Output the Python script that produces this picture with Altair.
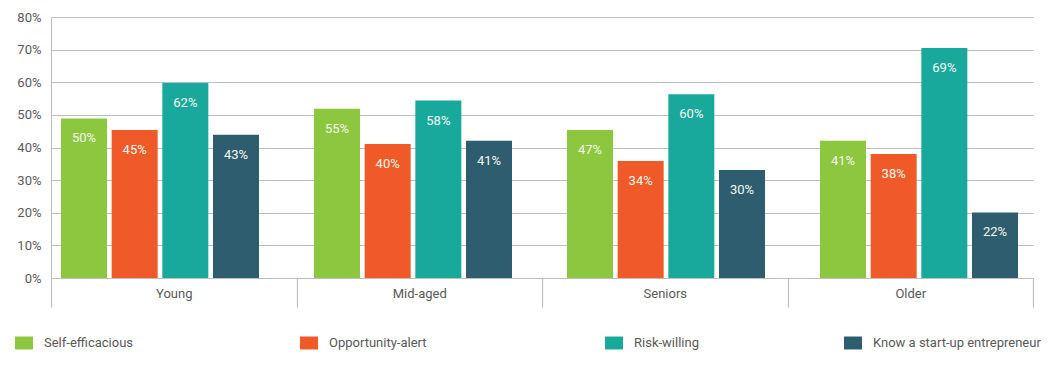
import altair as alt
import pandas as pd

groups = ["Young", "Mid-aged", "Seniors", "Older"]
series = ["Self-efficacious", "Opportunity-alert", "Risk-willing", "Know a start-up entrepreneur"]
colors = ["#8DC63F", "#F05A28", "#19A99C", "#2E5D70"]

# bar heights as drawn (fractions)
self_eff = [0.489, 0.519, 0.454, 0.421]
opp_alert = [0.454, 0.411, 0.359, 0.380]
risk_will = [0.598, 0.544, 0.563, 0.705]
know_ent = [0.439, 0.421, 0.331, 0.201]
# printed labels
self_lbl = ["50%", "55%", "47%", "41%"]
opp_lbl = ["45%", "40%", "34%", "38%"]
risk_lbl = ["62%", "58%", "60%", "69%"]
know_lbl = ["43%", "41%", "30%", "22%"]
y_ticks = [0, 0.1, 0.2, 0.3, 0.4, 0.5, 0.6, 0.7, 0.8]

values = [self_eff, opp_alert, risk_will, know_ent]
labels = [self_lbl, opp_lbl, risk_lbl, know_lbl]
rows = []
for s, vals, lbls in zip(series, values, labels):
    for g, v, l in zip(groups, vals, lbls):
        rows.append({"group": g, "series": s, "value": v, "label": l})
df = pd.DataFrame(rows)
cat_df = pd.DataFrame({"group": groups})

FONT = "Roboto"
GRAY = "#595959"
LINE = "#BFBFBF"

x_bar = alt.X("group:N", sort=groups, axis=None,
              scale=alt.Scale(paddingInner=0.2174, paddingOuter=0.0494, align=0.4))
xoff = alt.XOffset("series:N", sort=series,
                   scale=alt.Scale(domain=series, paddingInner=0.092, paddingOuter=0))
y_axis = alt.Axis(format=".0%", values=y_ticks, tickCount=9,
                  title=None, ticks=False, labelPadding=10, labelOverlap=False,
                  labelFont=FONT, labelFontSize=13, labelColor=GRAY,
                  domainColor=LINE, gridColor=LINE, gridWidth=1.2,
                  domainWidth=1.2)
y_enc = alt.Y("value:Q", scale=alt.Scale(domain=[0, 0.8], nice=False), axis=y_axis)

legend_x = [-36, 249, 554, 793]
layers = []
for i, (s, c) in enumerate(zip(series, colors)):
    layer = alt.Chart(df).transform_filter(alt.datum.series == s).mark_bar().encode(
        x=x_bar,
        xOffset=xoff,
        y=y_enc,
        color=alt.Color("series:N",
                        scale=alt.Scale(domain=[s], range=[c]),
                        legend=alt.Legend(orient="none", legendX=legend_x[i], legendY=317,
                                          title=None,
                                          symbolType="M-1,-0.72H1V0.72H-1Z",
                                          symbolSize=324, symbolStrokeWidth=0,
                                          symbolOpacity=1,
                                          labelOffset=11, labelFont=FONT,
                                          labelFontSize=13, labelColor=GRAY,
                                          labelLimit=300)),
    )
    layers.append(layer)

text = alt.Chart(df).mark_text(dy=20, baseline="middle", align="center",
                               font=FONT, fontSize=13, color="#F4F9EE").encode(
    x=x_bar,
    xOffset=xoff,
    y=y_enc,
    text="label:N",
)

bars_all = alt.layer(*layers, text).resolve_scale(color="independent").resolve_legend(color="independent")

cat_axis = alt.Chart(cat_df).mark_point(opacity=0).encode(
    x=alt.X("group:N", sort=groups,
            scale=alt.Scale(paddingInner=0, paddingOuter=0),
            axis=alt.Axis(orient="bottom", title=None, tickBand="extent", tickExtra=True,
                          tickSize=29, tickColor=LINE, tickWidth=1.2,
                          domainColor=LINE, domainWidth=1.2,
                          labelPadding=-20, labelAngle=0,
                          labelFont=FONT, labelFontSize=13, labelColor=GRAY)),
)

chart = alt.layer(bars_all, cat_axis).resolve_scale(x="independent").properties(
    width=982, height=261,
    autosize=alt.AutoSizeParams(type="none"),
    padding={"left": 43, "top": 9, "right": 10, "bottom": 85},
).configure_view(stroke=None)

chart.save("out.html", embed_options={"renderer": "svg", "actions": False})
